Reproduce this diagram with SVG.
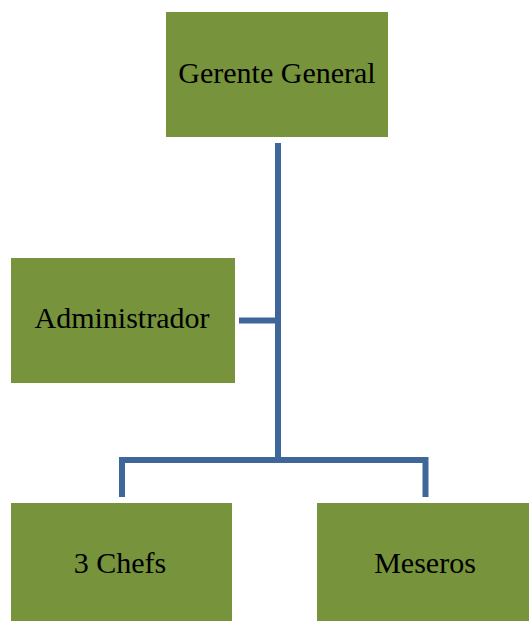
<svg xmlns="http://www.w3.org/2000/svg" width="529" height="621" viewBox="0 0 529 621">
  <style>
    .box { fill: #77933C; }
    .label { font-size: 30px; fill: #000; text-anchor: middle; }
    .link { fill: none; stroke: #3E6699; stroke-width: 6; }
  </style>
  <rect width="529" height="621" fill="#fff"/>
  <g id="connectors">
    <path class="link" d="M278 143 V460"/>
    <path class="link" d="M239 320.5 H278"/>
    <path class="link" d="M122 497 V460 H425.5 V497"/>
  </g>
  <g font-family="'Liberation Serif', 'Times New Roman', Times, serif">
    <g id="gerente">
      <rect class="box" x="166" y="12" width="222" height="125"/>
      <text class="label" x="277" y="83">Gerente General</text>
    </g>
    <g id="administrador">
      <rect class="box" x="11" y="258" width="224" height="125"/>
      <text class="label" x="122" y="328">Administrador</text>
    </g>
    <g id="chefs">
      <rect class="box" x="11" y="503" width="221" height="118"/>
      <text class="label" x="120" y="573">3 Chefs</text>
    </g>
    <g id="meseros">
      <rect class="box" x="317" y="503" width="212" height="118"/>
      <text class="label" x="425" y="573">Meseros</text>
    </g>
  </g>
</svg>
